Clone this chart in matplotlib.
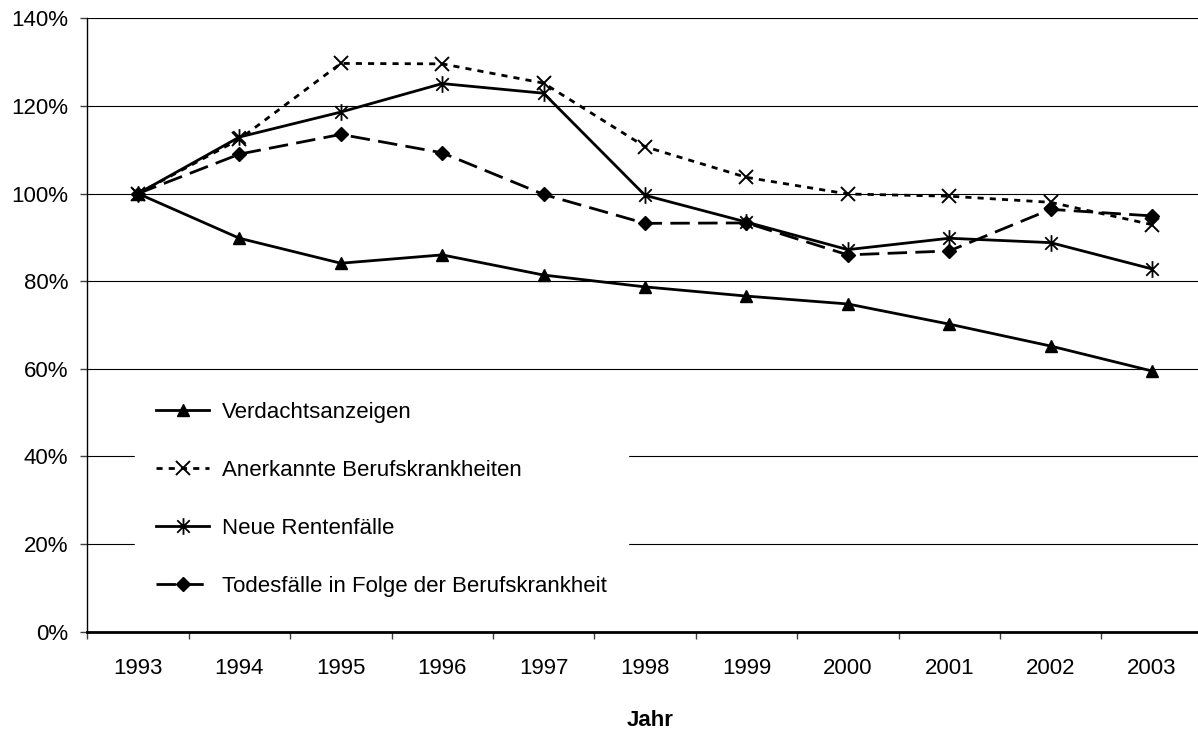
import numpy as np
import matplotlib
matplotlib.use('Agg')
import matplotlib.pyplot as plt
from matplotlib.path import Path
from matplotlib.ticker import FixedLocator, PercentFormatter

plt.rcParams['font.family'] = ['Liberation Sans', 'DejaVu Sans']

## data (index 1993 = 100%)
jahre = ['1993', '1994', '1995', '1996', '1997', '1998', '1999', '2000', '2001', '2002', '2003']
verdacht = [100, 89.8, 84.1, 86.0, 81.4, 78.7, 76.6, 74.8, 70.2, 65.2, 59.5]
anerkannt = [100, 112.4, 129.7, 129.6, 125.2, 110.7, 103.7, 99.9, 99.4, 98.0, 92.9]
renten = [100, 112.9, 118.6, 125.1, 122.9, 99.6, 93.5, 87.2, 89.8, 88.8, 82.8]
todesfaelle = [100, 109.0, 113.5, 109.3, 99.8, 93.2, 93.3, 86.0, 86.9, 96.4, 94.9]
y_ticks = [0, 20, 40, 60, 80, 100, 120, 140]

# excel style asterisk: x plus a vertical stroke
asterisk = Path([(0, -1), (0, 1), (-0.75, -0.75), (0.75, 0.75), (-0.75, 0.75), (0.75, -0.75)],
                [Path.MOVETO, Path.LINETO, Path.MOVETO, Path.LINETO, Path.MOVETO, Path.LINETO])

fig = plt.figure(figsize=(11.98, 7.31), dpi=100)
# plot area runs past the right image edge like the reference
ax = fig.add_axes([87.3 / 1198, 99.3 / 731, (1202.7 - 87.3) / 1198, (631.7 - 18.3) / 731])

x = np.arange(len(jahre))
lw = 2.0

ax.plot(x, verdacht, color='black', lw=lw, marker='^', ms=9,
        label='Verdachtsanzeigen', zorder=3)
ax.plot(x, anerkannt, color='black', lw=lw, linestyle=(0, (2.2, 2.2)), marker='x', ms=10, mew=1.4,
        label='Anerkannte Berufskrankheiten', zorder=3)
ax.plot(x, renten, color='black', lw=lw, marker=asterisk, ms=12, mew=1.3, mfc='none',
        label='Neue Rentenfälle', zorder=3)
ax.plot(x, todesfaelle, color='black', lw=lw, linestyle=(0, (7, 3)), marker='D', ms=7.5,
        label='Todesfälle in Folge der Berufskrankheit', zorder=3)

ax.set_xlim(-0.5, len(jahre) - 0.5)
ax.set_ylim(0, 140)

# category labels centered, tick marks on the boundaries
ax.set_xticks(x)
ax.set_xticklabels(jahre, fontsize=16)
ax.tick_params(axis='x', which='major', length=0, pad=19)
ax.xaxis.set_minor_locator(FixedLocator(np.arange(-0.5, len(jahre), 1.0)))
ax.tick_params(axis='x', which='minor', length=5, width=1, color='#404040', direction='out')

ax.set_yticks(y_ticks)
ax.yaxis.set_major_formatter(PercentFormatter(decimals=0))
ax.tick_params(axis='y', length=5, width=1, color='#404040', labelsize=16, pad=8.6)
ax.yaxis.grid(True, color='black', lw=0.8)
ax.set_axisbelow(True)

for s in ['top', 'right']:
    ax.spines[s].set_visible(False)
ax.spines['left'].set_linewidth(1.0)
ax.spines['bottom'].set_linewidth(2.0)

fig.text(650 / 1198, 1 - 720 / 731, 'Jahr', fontsize=16, fontweight='bold',
         ha='center', va='center')

leg = ax.legend(loc='upper left', bbox_to_anchor=(135 / 1198, 1 - 381 / 731),
                bbox_transform=fig.transFigure, fontsize=16, frameon=True,
                fancybox=False, edgecolor='white', facecolor='white', framealpha=1,
                handlelength=2.4, handletextpad=0.55, labelspacing=1.66,
                borderpad=0.95, borderaxespad=0)

fig.savefig('out.png', dpi=100)
